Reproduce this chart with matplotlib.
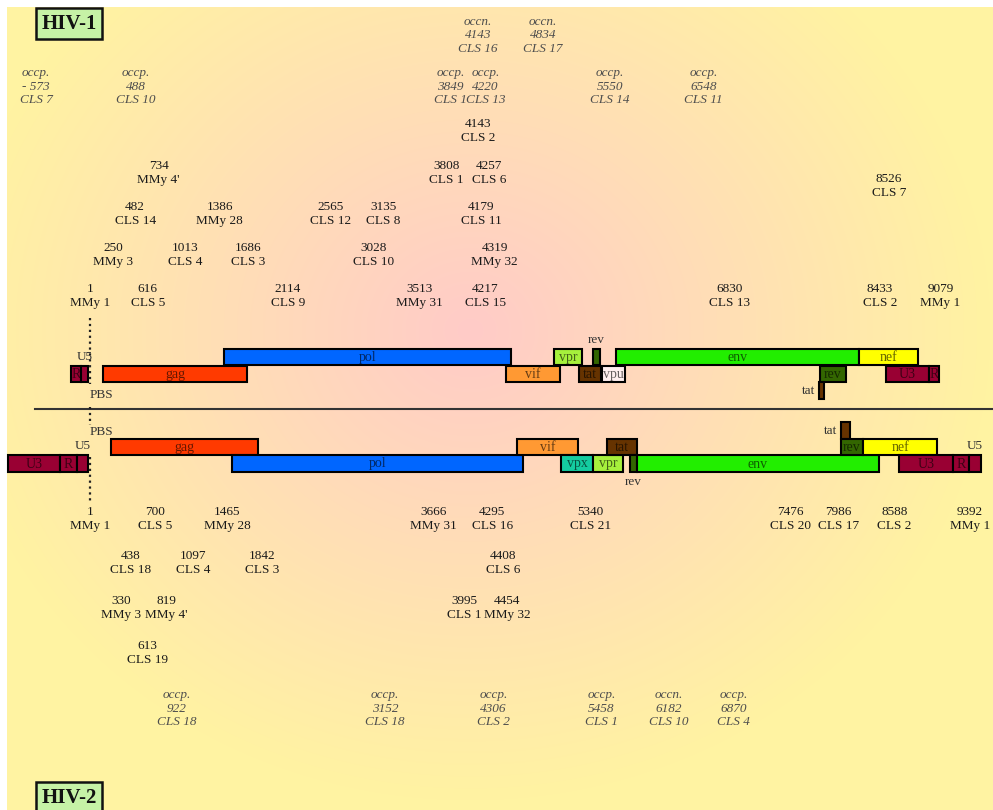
"""
HIV-1 / HIV-2 proviral genome maps with integration sites of clones
(numbers = nt position, labels = clone names; italic = occp./occn. sites)
"""

import numpy as np
import matplotlib.pyplot as plt
from matplotlib.patches import Rectangle

# ── Canvas / scale ─────────────────────────────────────────────────────
W, H = 993, 810
PX0, PX_PER_NT = 90, 0.0937          # nt 1 sits at x=90 px
NT_LO = 1 - PX0 / PX_PER_NT
NT_HI = NT_LO + W / PX_PER_NT

SERIF = ['Liberation Serif', 'DejaVu Serif']
FS = 9.5

# ── Gene boxes (nt coordinates as drawn in the schematic) ──────────────
HIV1_NAMES = ['R', 'U5', 'gag', 'pol', 'vif', 'vpr', 'rev', 'tat', 'vpu',
              'env', 'nef', 'rev', 'tat', 'U3', 'R']
HIV1_START = [-202, -95, 140, 1431, 4441, 4953, 5369, 5220, 5465,
              5615, 8208, 7792, 7781, 8496, 8955]
HIV1_END   = [-95, -20, 1676, 4494, 5017, 5252, 5444, 5455, 5711,
              8208, 8838, 8069, 7834, 8955, 9062]
HIV1_ROW   = [1, 1, 1, 0, 1, 0, 0, 1, 1, 0, 0, 1, 2, 1, 1]
HIV1_LABEL = ['in', 'above', 'in', 'in', 'in', 'in', 'above', 'in', 'in',
              'in', 'in', 'in', 'left', 'in', 'in']

HIV2_NAMES = ['U3', 'R', 'U5', 'gag', 'pol', 'vif', 'vpx', 'vpr', 'tat',
              'rev', 'env', 'tat', 'rev', 'nef', 'U3', 'R', 'U5']
HIV2_START = [-874, -319, -138, 225, 1516, 4558, 5028, 5369, 5519,
              5764, 5839, 8016, 8016, 8251, 8635, 9211, 9382]
HIV2_END   = [-319, -138, -20, 1794, 4622, 5209, 5369, 5689, 5839,
              5839, 8421, 8112, 8251, 9041, 9211, 9382, 9510]
HIV2_ROW   = [1, 1, 1, 0, 1, 0, 1, 1, 0, 1, 1, -1, 0, 0, 1, 1, 1]
HIV2_LABEL = ['in', 'in', 'above', 'in', 'in', 'in', 'in', 'in', 'in',
              'below', 'in', 'left', 'in', 'in', 'in', 'in', 'above']

# ── Integration sites: HIV-1 (above map) ───────────────────────────────
HIV1_POS   = [4143, 734, 3808, 4257, 8526,
              482, 1386, 2565, 3135, 4179,
              250, 1013, 1686, 3028, 4319,
              1, 616, 2114, 3513, 4217, 6830, 8433, 9079]
HIV1_CLONE = ['CLS 2', "MMy 4'", 'CLS 1', 'CLS 6', 'CLS 7',
              'CLS 14', 'MMy 28', 'CLS 12', 'CLS 8', 'CLS 11',
              'MMy 3', 'CLS 4', 'CLS 3', 'CLS 10', 'MMy 32',
              'MMy 1', 'CLS 5', 'CLS 9', 'MMy 31', 'CLS 15', 'CLS 13',
              'CLS 2', 'MMy 1']
HIV1_TIER  = [0, 1, 1, 1, 2, 3, 3, 3, 3, 3, 4, 4, 4, 4, 4,
              5, 5, 5, 5, 5, 5, 5, 5]

HIV1_OCC_KIND  = ['occn.', 'occn.', 'occp.', 'occp.', 'occp.', 'occp.',
                  'occp.', 'occp.']
HIV1_OCC_POS   = [4143, 4834, -573, 488, 3849, 4220, 5550, 6548]
HIV1_OCC_CLONE = ['CLS 16', 'CLS 17', 'CLS 7', 'CLS 10', 'CLS 1', 'CLS 13',
                  'CLS 14', 'CLS 11']
HIV1_OCC_TIER  = [0, 0, 1, 1, 1, 1, 1, 1]

# ── Integration sites: HIV-2 (below map) ───────────────────────────────
HIV2_POS   = [1, 700, 1465, 3666, 4295, 5340, 7476, 7986, 8588, 9392,
              438, 1097, 1842, 4408,
              330, 819, 3995, 4454,
              613]
HIV2_CLONE = ['MMy 1', 'CLS 5', 'MMy 28', 'MMy 31', 'CLS 16', 'CLS 21',
              'CLS 20', 'CLS 17', 'CLS 2', 'MMy 1',
              'CLS 18', 'CLS 4', 'CLS 3', 'CLS 6',
              'MMy 3', "MMy 4'", 'CLS 1', 'MMy 32',
              'CLS 19']
HIV2_TIER  = [0] * 10 + [1] * 4 + [2] * 4 + [3]

HIV2_OCC_KIND  = ['occp.', 'occp.', 'occp.', 'occp.', 'occn.', 'occp.']
HIV2_OCC_POS   = [922, 3152, 4306, 5458, 6182, 6870]
HIV2_OCC_CLONE = ['CLS 18', 'CLS 18', 'CLS 2', 'CLS 1', 'CLS 10', 'CLS 4']

# ── Layout (pixel y) ───────────────────────────────────────────────────
HIV1_ROW_Y = {0: (349, 365), 1: (366, 382), 2: (382, 399)}
HIV2_ROW_Y = {-1: (422, 439), 0: (439, 455), 1: (455, 472)}
HIV1_TIER_Y = [124, 166, 179, 207, 248, 289]
HIV1_OCC_Y = [22, 73]
HIV2_TIER_Y = [512, 556, 601, 646]
HIV2_OCC_Y = 695

GENE_COLOR = {
    'U3': '#990033', 'R': '#990033', 'U5': '#990033',
    'gag': '#FF3A00', 'pol': '#0066FF', 'vif': '#FF9933',
    'vpr': '#A6F03C', 'vpx': '#14CCA0', 'tat': '#663300',
    'rev': '#336600', 'vpu': '#FFEFEF', 'env': '#22EE00',
    'nef': '#FFFF00',
}


def background(bg):
    yy, xx = np.mgrid[7:H, 7:W].astype(float)
    d = np.sqrt(((xx - 470) / 520) ** 2 + ((yy - 330) / 470) ** 2)
    d = np.clip(d, 0, 1)[..., None]
    pink = np.array([255, 203, 200]) / 255
    yellow = np.array([255, 243, 162]) / 255
    img = pink * (1 - d) + yellow * d
    bg.imshow(img, extent=(7, W, H, 7), aspect='auto', zorder=0,
              interpolation='bilinear')


def draw_genes(ax, names, starts, ends, rows, where, row_y):
    for name, s, e, r, w in zip(names, starts, ends, rows, where):
        y0, y1 = row_y[r]
        ax.bar(s, y1 - y0, width=e - s, bottom=y0, align='edge',
               color=GENE_COLOR[name], edgecolor='black', linewidth=1.5,
               zorder=3)
        xc = (s + e) / 2
        kw = dict(family=SERIF, fontsize=FS, zorder=4)
        if w == 'in':
            ax.text(xc, (y0 + y1) / 2 + 0.5, name, ha='center', va='center',
                    color='black', alpha=0.6, fontsize=10,
                    family=SERIF, zorder=4)
        elif w == 'above':
            ax.text(xc, y0 - 9, name, ha='center', va='center',
                    color='#333333', **kw)
        elif w == 'below':
            ax.text(xc, y1 + 10, name, ha='center', va='center',
                    color='#333333', **kw)
        elif w == 'left':
            ax.text(s - 40, (y0 + y1) / 2, name, ha='right', va='center',
                    color='#333333', **kw)


def site(ax, pos, lines, y, italic=False, step=14):
    for i, s in enumerate(lines):
        ax.text(pos, y + i * step, s, ha='center', va='center',
                family=SERIF, fontsize=FS,
                style='italic' if italic else 'normal',
                color='#4d4d4d' if italic else '#1a1a1a', zorder=5)


def num(p):
    return f'- {abs(p)}' if p < 0 else str(p)


fig = plt.figure(figsize=(W / 100, H / 100), dpi=100)
fig.patch.set_facecolor('white')
bg = fig.add_axes([0, 0, 1, 1])
bg.set_xlim(0, W)
bg.set_ylim(H, 0)
bg.axis('off')
background(bg)

ax = fig.add_axes([0, 0, 1, 1])
ax.set_xlim(NT_LO, NT_HI)
ax.set_ylim(H, 0)
ax.axis('off')
ax.patch.set_alpha(0)

# ── Title boxes ────────────────────────────────────────────────────────
for label, y0 in [('HIV-1', 8), ('HIV-2', 782)]:
    bg.add_patch(Rectangle((36, y0), 66, 31, facecolor='#C6F2A6',
                           edgecolor='#111111', linewidth=1.8, zorder=5))
    bg.text(69, y0 + 16, label, ha='center', va='center', family=SERIF,
            fontsize=15, fontweight='bold', color='#111111', zorder=6)

# ── Separator + dotted nt-1 markers ────────────────────────────────────
bg.plot([35, W], [409, 409], color='#333333', lw=1.5, zorder=2)
for ya, yb in [(318, 384), (407, 425), (457, 503)]:
    ax.plot([1, 1], [ya, yb], color='#222222', lw=1.6, ls=':', zorder=4)
ax.text(1, 395, 'PBS', ha='left', va='center', family=SERIF, fontsize=FS,
        color='#333333', zorder=5)
ax.text(1, 432, 'PBS', ha='left', va='center', family=SERIF, fontsize=FS,
        color='#333333', zorder=5)

# ── Genomes ────────────────────────────────────────────────────────────
draw_genes(ax, HIV1_NAMES, HIV1_START, HIV1_END, HIV1_ROW, HIV1_LABEL,
           HIV1_ROW_Y)
draw_genes(ax, HIV2_NAMES, HIV2_START, HIV2_END, HIV2_ROW, HIV2_LABEL,
           HIV2_ROW_Y)

# ── Site labels ────────────────────────────────────────────────────────
for p, c, t in zip(HIV1_POS, HIV1_CLONE, HIV1_TIER):
    site(ax, p, [num(p), c], HIV1_TIER_Y[t])
for k, p, c, t in zip(HIV1_OCC_KIND, HIV1_OCC_POS, HIV1_OCC_CLONE,
                      HIV1_OCC_TIER):
    site(ax, p, [k, num(p), c], HIV1_OCC_Y[t], italic=True, step=13.5)
for p, c, t in zip(HIV2_POS, HIV2_CLONE, HIV2_TIER):
    site(ax, p, [num(p), c], HIV2_TIER_Y[t])
for k, p, c in zip(HIV2_OCC_KIND, HIV2_OCC_POS, HIV2_OCC_CLONE):
    site(ax, p, [k, num(p), c], HIV2_OCC_Y, italic=True, step=13.5)

fig.savefig('out.png', dpi=100, facecolor='white')
